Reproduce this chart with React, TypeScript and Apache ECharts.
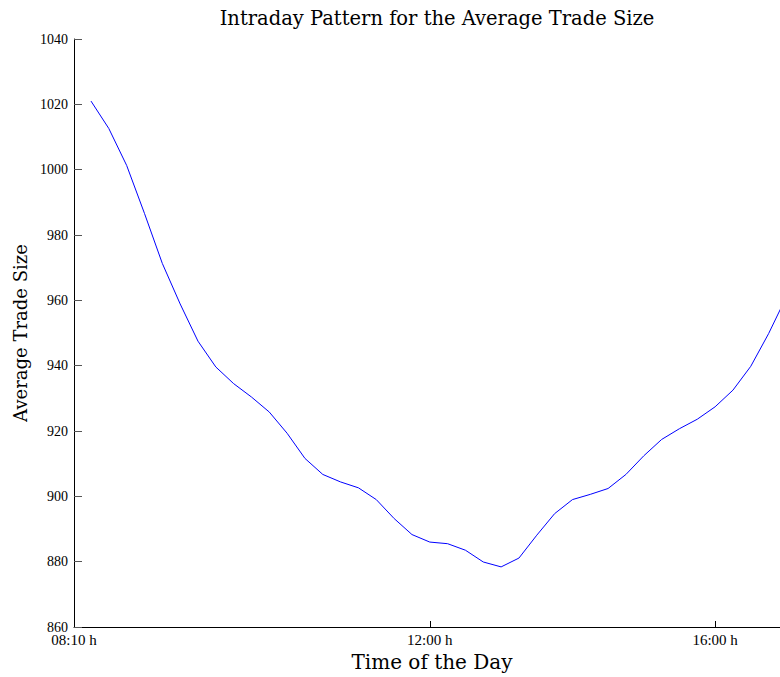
import React, { useEffect, useRef } from "react";
import * as echarts from "echarts";

// Average trade size per intraday interval (index 0 = first interval)
const avgTradeSize: number[] = [
  1021.0, 1012.6, 1001.3, 986.6, 971.3, 958.9, 947.5, 939.6, 934.5, 930.4,
  925.8, 919.3, 911.6, 906.7, 904.4, 902.6, 899.0, 893.2, 888.3, 886.0,
  885.5, 883.5, 879.9, 878.4, 881.1, 888.1, 894.7, 899.0, 900.6, 902.4,
  906.7, 912.4, 917.4, 920.7, 923.6, 927.4, 932.5, 939.8, 949.8, 961.1,
];

// x-axis tick labels and the interval index they sit at
const xTickLabels: string[] = ["08:10 h", "12:00 h", "16:00 h"];
const xTickIndex: number[] = [-0.953, 19, 35];
const X_MIN = -0.953;
const X_MAX = 38.64;

const FONT = "'Liberation Serif', 'Times New Roman', serif";
const WIDE = "'DejaVu Serif', serif";

export default function App() {
  const ref = useRef<HTMLDivElement>(null);
  useEffect(() => {
    if (!ref.current) return;
    const chart = echarts.init(ref.current, undefined, { renderer: "svg" });
    chart.setOption({
      animation: false,
      backgroundColor: "#ffffff",
      textStyle: { fontFamily: FONT },
      graphic: [
        {
          type: "text",
          x: 437,
          y: 18,
          style: {
            text: "Intraday Pattern for the Average Trade Size",
            font: `19.5px ${WIDE}`,
            fill: "#000",
            textAlign: "center",
            textVerticalAlign: "middle",
          },
        },
      ],
      grid: {
        left: 74,
        right: 0,
        top: 39,
        bottom: 50,
        containLabel: false,
        outerBoundsMode: "none",
      },
      xAxis: {
        type: "value",
        min: X_MIN,
        max: X_MAX,
        name: "Time of the Day",
        nameLocation: "middle",
        nameGap: 24,
        nameTextStyle: {
          fontFamily: WIDE,
          fontSize: 20,
          color: "#000",
          padding: [0, 0, 0, 10],
        },
        axisLine: { show: true, onZero: false, lineStyle: { color: "#000", width: 1 } },
        axisTick: {
          show: true,
          inside: true,
          length: 6,
          customValues: xTickIndex.slice(1),
          lineStyle: { color: "#000" },
        },
        axisLabel: {
          customValues: xTickIndex,
          formatter: (v: number) => {
            const i = xTickIndex.findIndex((t) => Math.abs(t - v) < 1e-6);
            return i >= 0 ? xTickLabels[i] : "";
          },
          fontFamily: FONT,
          fontSize: 15,
          color: "#000",
          margin: 5,
        },
        splitLine: { show: false },
      },
      yAxis: {
        type: "value",
        min: 860,
        max: 1040,
        interval: 20,
        name: "Average Trade Size",
        nameLocation: "middle",
        nameGap: 45,
        nameRotate: 90,
        nameTextStyle: { fontFamily: WIDE, fontSize: 18, color: "#000" },
        axisLine: { show: true, onZero: false, lineStyle: { color: "#000", width: 1 } },
        axisTick: {
          show: true,
          inside: true,
          length: 8,
          lineStyle: { color: "#555" },
        },
        axisLabel: {
          formatter: (v: number) => String(v),
          fontFamily: FONT,
          fontSize: 14,
          color: "#000",
          margin: 6,
        },
        splitLine: { show: false },
      },
      series: [
        {
          type: "line",
          data: avgTradeSize.map((v, i) => [i, v]),
          showSymbol: false,
          symbol: "none",
          clip: true,
          lineStyle: { color: "#0000ff", width: 1 },
        },
      ],
    });
    return () => chart.dispose();
  }, []);
  return (
    <div
      ref={ref}
      style={{ position: "fixed", left: 0, top: 0, width: 780, height: 677 }}
    />
  );
}
